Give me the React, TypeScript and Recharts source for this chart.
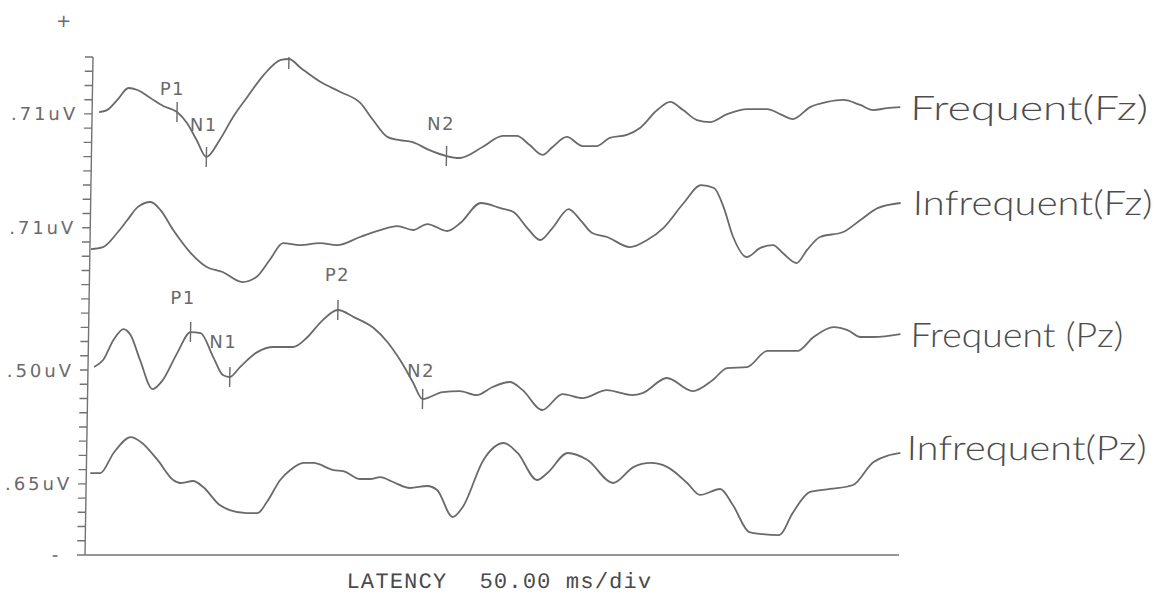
import React from 'react';
import { ComposedChart, Line, Scatter, XAxis, YAxis, LabelList } from 'recharts';

// Evoked potential traces: [latency (ms), amplitude (divisions from channel baseline)]
type Pt = [number, number];

const frequentFz: Pt[] = [
  [4.7, 0.13], [10.1, 0.27], [16.9, 0.98], [24.3, 1.82], [30.4, 1.68], [39.2, 1.12], [48.0, 0.56],
  [57.4, 0.13], [64.2, -0.64], [70.9, -1.83], [77.7, -3.03], [86.5, -1.83], [95.3, -0.22], [104.7, 1.19],
  [115.5, 2.73], [127.0, 3.79], [132.4, 3.86], [140.5, 3.23], [154.1, 2.24], [167.6, 1.54], [181.1, 0.77],
  [189.9, -0.43], [200.0, -1.63], [208.1, -1.84], [216.9, -1.98], [228.4, -2.55], [239.9, -2.96],
  [248.6, -3.1], [264.2, -2.33], [277.7, -1.55], [287.2, -1.55], [296.0, -2.19], [304.7, -2.88],
  [311.5, -2.32], [321.0, -1.62], [331.8, -2.26], [341.2, -2.26], [350.0, -1.69], [361.5, -1.48],
  [370.3, -0.99], [381.8, 0.27], [390.5, 0.84], [399.3, 0.27], [408.8, -0.43], [417.6, -0.57],
  [429.1, -0.01], [442.6, 0.34], [456.1, 0.34], [464.9, -0.01], [473.6, -0.36], [485.1, 0.48],
  [496.6, 0.84], [507.4, 0.98], [518.9, 0.63], [527.7, 0.27], [537.2, 0.41], [546.0, 0.48],
];

const infrequentFz: Pt[] = [
  [0.7, -1.5], [8.8, -1.36], [18.2, -0.37], [25.0, 0.54], [31.8, 1.45], [40.5, 1.81], [47.3, 1.24],
  [56.1, -0.16], [67.6, -1.71], [79.1, -2.76], [89.9, -3.11], [103.4, -3.82], [112.8, -3.46],
  [121.6, -2.27], [130.4, -1.08], [141.9, -1.22], [155.4, -1.08], [166.9, -1.22], [182.4, -0.65],
  [195.9, -0.16], [207.4, 0.12], [218.2, -0.16], [227.7, 0.26], [241.2, -0.23], [250.0, 0.33],
  [263.5, 1.74], [277.0, 1.38], [285.8, 1.1], [295.3, -0.02], [304.1, -0.86], [312.8, 0.05],
  [323.0, 1.31], [331.1, 0.54], [339.2, -0.37], [349.3, -0.65], [364.9, -1.36], [376.4, -0.86],
  [387.2, -0.02], [400.7, 1.74], [412.2, 3.0], [421.0, 2.79], [427.7, 1.45], [434.5, -0.65],
  [443.9, -2.06], [452.7, -1.43], [461.5, -1.22], [468.2, -1.78], [477.7, -2.48], [484.5, -1.57],
  [493.2, -0.65], [508.8, -0.3], [520.3, 0.54], [531.8, 1.38], [547.3, 1.74],
];

const frequentPz: Pt[] = [
  [4.1, 0.21], [10.1, 0.7], [16.9, 2.11], [23.6, 2.88], [28.4, 2.46], [35.1, 0.7], [43.9, -1.34],
  [50.7, -0.7], [60.1, 1.19], [68.9, 2.67], [75.7, 2.6], [84.5, 0.91], [91.2, -0.35], [95.9, -0.49],
  [102.7, 0.21], [114.2, 1.26], [125.0, 1.62], [138.5, 1.62], [148.0, 2.32], [156.8, 3.37],
  [168.2, 4.22], [179.1, 3.72], [192.6, 2.95], [202.0, 1.97], [210.8, 0.7], [219.6, -0.84],
  [226.4, -2.04], [239.9, -1.55], [251.4, -1.48], [262.8, -1.76], [273.6, -1.19], [285.1, -0.84],
  [293.9, -1.41], [307.4, -2.81], [320.9, -1.69], [334.5, -1.97], [350.7, -1.41], [368.2, -1.76],
  [375.0, -1.62], [391.2, -0.56], [408.8, -1.48], [422.3, -0.7], [431.8, 0.14], [445.3, 0.21],
  [458.8, 1.34], [479.1, 1.34], [489.9, 2.32], [503.4, 3.02], [512.8, 2.81], [521.6, 2.32],
  [530.4, 2.32], [548.6, 2.53],
];

const infrequentPz: Pt[] = [
  [2.7, 0.76], [9.5, 0.76], [18.2, 2.17], [29.7, 3.29], [36.5, 2.94], [48.0, 1.68], [58.8, 0.27],
  [63.5, 0.06], [72.3, 0.2], [79.1, -0.22], [90.5, -1.49], [97.3, -1.84], [108.8, -2.05],
  [116.2, -2.05], [122.3, -1.28], [131.1, 0.27], [137.8, 0.97], [146.6, 1.47], [153.4, 1.47],
  [166.9, 0.97], [173.6, 0.9], [185.1, 0.34], [191.9, 0.34], [198.6, 0.48], [207.4, 0.13],
  [218.9, -0.29], [230.4, -0.15], [237.2, -0.43], [248.0, -2.33], [254.7, -1.63], [268.2, 1.68],
  [281.8, 2.87], [291.2, 2.17], [304.7, 0.27], [311.5, 0.76], [325.0, 2.17], [338.5, 1.68],
  [356.1, 0.06], [369.6, 1.18], [381.1, 1.47], [392.6, 1.18], [406.1, 0.06], [414.9, -0.78],
  [428.4, -0.36], [437.2, -1.49], [448.6, -3.39], [457.4, -3.53], [468.9, -3.6], [477.7, -2.05],
  [489.2, -0.57], [502.7, -0.36], [518.2, -0.08], [531.8, 1.54], [550.0, 2.17],
];

const channelNames = ['Frequent(Fz)', 'Infrequent(Fz)', 'Frequent (Pz)', 'Infrequent(Pz)'];
const channelScales = ['.71uV', '.71uV', '.50uV', '.65uV'];
const channelBaselines = [31, 23, 13, 5];

// Component peaks marked on the frequent-stimulus traces
const peakNames = ['P1', 'N1', 'P2', 'N2'];
const peakLatFz = [57.4, 77.7, 132.4, 239.9];
const peakLatPz = [68.9, 95.9, 168.2, 226.4];

const latencyTicks = [0, 50, 100, 150, 200, 250, 300, 350, 400, 450, 500];
const divisionTicks = [
  0, 1, 2, 3, 4, 5, 6, 7, 8, 9, 10, 11, 12, 13, 14, 15, 16, 17,
  18, 19, 20, 21, 22, 23, 24, 25, 26, 27, 28, 29, 30, 31, 32, 33, 34, 35,
];

// ---- styling ----
const INK = '#6a6a6a';
const AXIS = '#737373';
const PLOT_FONT = '"DejaVu Sans", sans-serif';
const HAND_FONT = 'Lato, "Open Sans", sans-serif';

const endLabelStyle = [
  { dx: 10, dy: 13, w: 238 },
  { dx: 12, dy: 12, w: 240 },
  { dx: 10, dy: 13, w: 213 },
  { dx: 6, dy: 7, w: 240 },
];
const peakLabelOffsetFz: Record<string, [number, number]> = {
  P1: [-5, -24], N1: [-3, -33], P2: [-1, -31], N2: [-6, -33],
};
const peakLabelOffsetPz: Record<string, [number, number]> = {
  P1: [-8, -35], N1: [-7, -35], P2: [-1, -35], N2: [-2, -29],
};

// ---- derived tables ----
const traces = [frequentFz, infrequentFz, frequentPz, infrequentPz];
const series = traces.map((pts, i) => pts.map(([t, a]) => ({ t, v: channelBaselines[i] + a })));

const peaksOf = (pts: Pt[], base: number, lats: number[]) =>
  lats.map((t, k) => {
    const p = pts.find((q) => q[0] === t) as Pt;
    return { t, v: base + p[1], name: peakNames[k] };
  });
const peaksFz = peaksOf(frequentFz, channelBaselines[0], peakLatFz);
const peaksPz = peaksOf(frequentPz, channelBaselines[2], peakLatPz);

const ScaleTick = (props: any) => {
  const { x, y, payload } = props;
  const idx = channelBaselines.indexOf(payload.value);
  if (idx < 0) return <g />;
  return (
    <text
      x={x - 7}
      y={y}
      textAnchor="end"
      dominantBaseline="central"
      fontFamily={PLOT_FONT}
      fontSize={18}
      fill={INK}
      textLength={64}
      lengthAdjust="spacing"
    >
      {channelScales[idx]}
    </text>
  );
};

const makePeakShape = (offsets: Record<string, [number, number]>) => (props: any) => {
  const { cx, cy } = props;
  const name = props.payload?.name ?? props.name;
  const [ox, oy] = offsets[name] || [0, -30];
  return (
    <g>
      <line x1={cx} x2={cx} y1={cy - 10} y2={cy + 10} stroke={INK} strokeWidth={1.4} />
      <text
        x={cx + ox}
        y={cy + oy}
        textAnchor="middle"
        dominantBaseline="central"
        fontFamily={PLOT_FONT}
        fontSize={18}
        fill={INK}
        letterSpacing={1.5}
      >
        {name}
      </text>
    </g>
  );
};

const makeEndLabel = (i: number) => (props: any) => {
  const { x, y, index } = props;
  if (index !== series[i].length - 1) return null;
  const s = endLabelStyle[i];
  return (
    <text
      x={x + s.dx}
      y={y + s.dy}
      fontFamily={HAND_FONT}
      fontWeight={300}
      fontSize={34}
      fill="#4d4d4d"
      textLength={s.w}
      lengthAdjust="spacingAndGlyphs"
    >
      {channelNames[i]}
    </text>
  );
};

const PolarityMarks = (props: any) => {
  const vb = props.viewBox || { x: 25, y: 57, width: 60, height: 498 };
  const right = vb.x + vb.width;
  return (
    <g fontFamily={PLOT_FONT} fontSize={18} fill={INK}>
      <text x={right - 30} y={vb.y - 36} textAnchor="middle" dominantBaseline="central">+</text>
      <text x={right - 30} y={vb.y + vb.height} textAnchor="middle" dominantBaseline="central">-</text>
    </g>
  );
};

const LatencyCaption = (props: any) => {
  const vb = props.viewBox || { x: 85, y: 555 };
  const x0 = vb.x + 262;
  return (
    <text
      y={vb.y + 33}
      fontFamily='"Liberation Mono", "Courier New", monospace'
      fontSize={22}
      letterSpacing={1.2}
      fill="#4a4a4a"
    >
      <tspan x={x0}>LATENCY</tspan>
      <tspan x={x0 + 133}>50.00 ms/div</tspan>
    </text>
  );
};

export default function App() {
  const lineKeys = ['frequentFz', 'infrequentFz', 'frequentPz', 'infrequentPz'];
  return (
    <div style={{ position: 'absolute', left: 0, top: 0, width: 1159, height: 597, background: '#fff', overflow: 'hidden' }}>
      <div style={{ transform: 'skewX(-0.92deg)', transformOrigin: '0px 555px' }}>
        <ComposedChart width={1159} height={597} margin={{ top: 57, right: 260, bottom: 12, left: 25 }}>
          <XAxis
            type="number"
            dataKey="t"
            domain={[0, 550]}
            ticks={latencyTicks}
            interval={0}
            allowDataOverflow
            tick={false}
            tickSize={8}
            height={30}
            axisLine={{ stroke: AXIS, strokeWidth: 1.4 }}
            tickLine={{ stroke: AXIS, strokeWidth: 1.4 }}
            label={{ content: (p: any) => <LatencyCaption {...p} /> }}
          />
          <YAxis
            type="number"
            dataKey="v"
            domain={[0, 35]}
            ticks={divisionTicks}
            interval={0}
            allowDataOverflow
            width={60}
            tickSize={8}
            tick={<ScaleTick />}
            axisLine={{ stroke: AXIS, strokeWidth: 1.4 }}
            tickLine={{ stroke: AXIS, strokeWidth: 1.4 }}
            label={{ content: (p: any) => <PolarityMarks {...p} /> }}
          />
          {series.map((rows, i) => (
            <Line
              key={lineKeys[i]}
              data={rows}
              dataKey="v"
              name={channelNames[i]}
              type="monotone"
              stroke={INK}
              strokeWidth={1.8}
              dot={false}
              activeDot={false}
              isAnimationActive={false}
            >
              <LabelList dataKey="v" content={makeEndLabel(i)} />
            </Line>
          ))}
          <Scatter data={peaksFz} dataKey="v" shape={makePeakShape(peakLabelOffsetFz)} isAnimationActive={false} />
          <Scatter data={peaksPz} dataKey="v" shape={makePeakShape(peakLabelOffsetPz)} isAnimationActive={false} />
        </ComposedChart>
      </div>
    </div>
  );
}
